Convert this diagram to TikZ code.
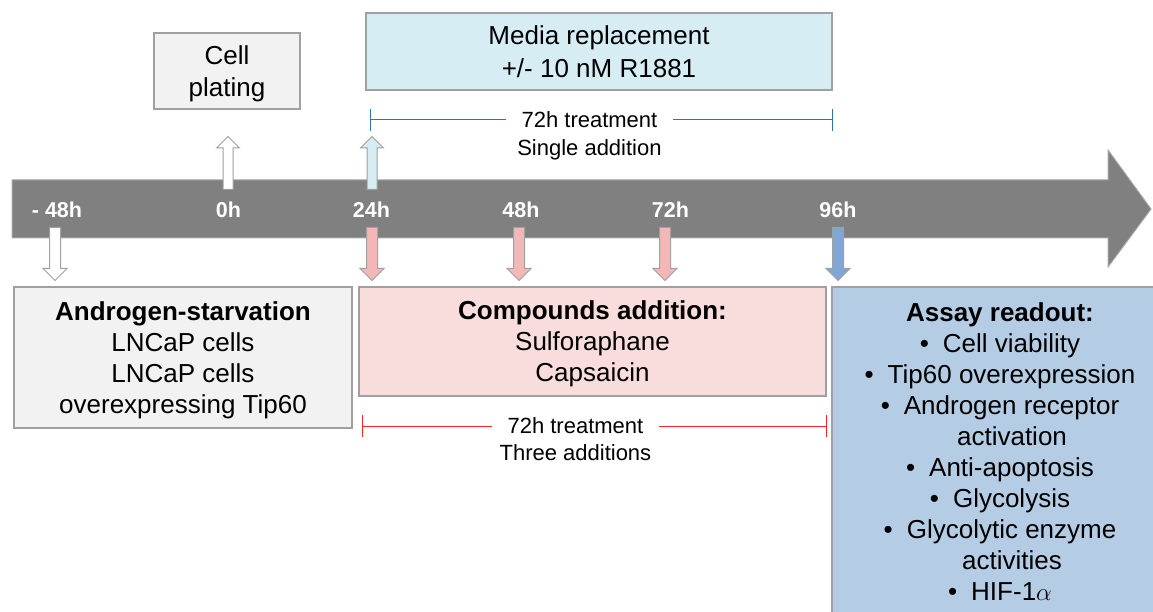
\documentclass[tikz,border=0pt]{standalone}
\usepackage{fontspec}
\setmainfont{Liberation Sans}
\usepackage{tikz}
\usetikzlibrary{shapes,arrows,arrows.meta,positioning,calc,shapes.arrows}

\definecolor{timegrey}{HTML}{808080}
\definecolor{timeedge}{HTML}{A6A6A6}
\definecolor{edgegrey}{HTML}{A0A0A0}
\definecolor{platefill}{HTML}{F2F2F2}
\definecolor{mediafill}{HTML}{D6EDF3}
\definecolor{compfill}{HTML}{F9DCDC}
\definecolor{assayfill}{HTML}{B4CDE5}
\definecolor{pinkarrow}{HTML}{F4B7B7}
\definecolor{bluearrow}{HTML}{7FA7D4}
\definecolor{singleblue}{HTML}{2E75B6}
\definecolor{threered}{HTML}{FF2525}

\newcommand{\bul}{\textbullet\hspace{14pt}}

\begin{document}
\begin{tikzpicture}[x=1pt, y=-1pt, node distance=0pt]
\tikzstyle{stagebox} = [rectangle, draw=edgegrey, line width=1.5pt, align=center, inner sep=0pt, text depth=0pt, font=\fontsize{26}{31}\selectfont]
\tikzstyle{hourlabel} = [text=white, font=\fontsize{21.5}{26}\selectfont\bfseries]
\tikzstyle{uparrow} = [single arrow, draw=edgegrey, line width=1pt, inner sep=4.5pt, single arrow head extend=6.5pt, minimum height=53pt, shape border rotate=90, anchor=tail]
\tikzstyle{downarrow} = [single arrow, draw=edgegrey, line width=1pt, inner sep=5pt, single arrow head extend=6.5pt, minimum height=53pt, shape border rotate=270, anchor=tail]
\tikzstyle{bracket} = [line width=1pt, {Bar[width=22pt]}-{Bar[width=22pt]}]
\tikzstyle{spanlabel} = [fill=white, inner xsep=16pt, inner ysep=0pt, font=\fontsize{22}{26}\selectfont]
\tikzstyle{spannote} = [inner sep=0pt, font=\fontsize{22}{26}\selectfont]

\useasboundingbox (0,0) rectangle (1153,612);

% Time line
\draw [fill=timegrey, draw=timeedge, line width=1pt] (12,180) -- (1108,180) -- (1108,150) -- (1151,209) -- (1108,267) -- (1108,238) -- (12,238) -- cycle;

\node [hourlabel] (hm48) at (57,210) {- 48h};
\node [hourlabel] (h0) at (228.5,210) {0h};
\node [hourlabel] (h24) at (371.5,210) {24h};
\node [hourlabel] (h48) at (521,210) {48h};
\node [hourlabel] (h72) at (670.5,210) {72h};
\node [hourlabel] (h96) at (838,210) {96h};

% Top boxes
\node [stagebox, fill=platefill, minimum width=146pt, minimum height=76pt, font=\fontsize{26}{32}\selectfont] (plating) at (227,71) {Cell\\plating};
\node [stagebox, fill=mediafill, minimum width=466pt, minimum height=77pt, font=\fontsize{26}{33}\selectfont] (media) at (599,51.5) {Media replacement\\+/- 10 nM R1881};

\node [uparrow, fill=white] (upplate) at (228,190) {};
\node [uparrow, fill=mediafill] (upmedia) at (372,190) {};

% Single addition span
\coordinate (singleL) at (370,120);
\coordinate (singleR) at (833,120);
\draw [bracket, draw=singleblue] (singleL) -- node[spanlabel, pos=0.474] (single) {72h treatment} (singleR);
\node [spannote, below=11pt of single] (singlenote) {Single addition};

% Down arrows
\node [downarrow, fill=white] (dnstarve) at (55,227) {};
\node [downarrow, fill=pinkarrow] (dn24) at (372,227) {};
\node [downarrow, fill=pinkarrow] (dn48) at (519,227) {};
\node [downarrow, fill=pinkarrow] (dn72) at (665,227) {};
\node [downarrow, fill=bluearrow] (dn96) at (838,227) {};

% Bottom boxes
\node [stagebox, fill=platefill, minimum width=338pt, minimum height=141pt] (starve) at (183,357.5) {\textbf{Androgen-starvation}\\LNCaP cells\\LNCaP cells\\overexpressing Tip60};
\node [stagebox, fill=compfill, minimum width=467pt, minimum height=109pt] (compounds) at (592.5,341.5) {\textbf{Compounds addition:}\\Sulforaphane\\Capsaicin};
\node [stagebox, fill=assayfill, minimum width=336pt, minimum height=329pt] (assay) at (1000,451.5) {\textbf{Assay readout:}\\\bul Cell viability\\\bul Tip60 overexpression\\\bul Androgen receptor\\\hspace*{24pt}activation\\\bul Anti-apoptosis\\\bul Glycolysis\\\bul Glycolytic enzyme\\\hspace*{24pt}activities\\\bul HIF-1$\alpha$};

% Three additions span
\coordinate (threeL) at (362,426);
\coordinate (threeR) at (827,426);
\draw [bracket, draw=threered] (threeL) -- node[spanlabel, pos=0.459] (three) {72h treatment} (threeR);
\node [spannote, below=10pt of three] (threenote) {Three additions};

\end{tikzpicture}
\end{document}
